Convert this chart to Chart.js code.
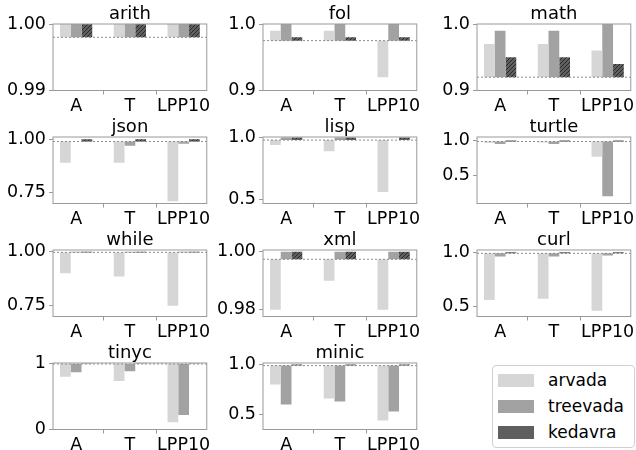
<!DOCTYPE html>
<html>
<head>
<meta charset="utf-8">
<script src="https://cdn.jsdelivr.net/npm/chart.js@4.4.1/dist/chart.umd.min.js"></script>
<style>
  body { margin: 0; background: #fff; width: 636px; height: 450px; position: relative; overflow: hidden; font-family: 'DejaVu Sans', sans-serif; }
  .panel { position: absolute; width: 212px; height: 113px; }
  #legend { position: absolute; left: 492px; top: 365px; width: 143px; height: 83px; box-sizing: border-box;
            border: 1px solid #d0d0d0; border-radius: 4px; }
  .item { position: absolute; left: 5px; height: 13px; }
  .swatch { position: absolute; left: 0; top: 0; width: 36px; height: 13px; }
  .label { position: absolute; left: 50px; top: -4px; font-size: 17px; line-height: 20px; color: #000; white-space: nowrap; }
</style>
</head>
<body>
<div id="legend"></div>
<script>
// grammar subjects, one small chart each
const names = ['arith', 'fol', 'math', 'json', 'lisp', 'turtle', 'while', 'xml', 'curl', 'tinyc', 'minic'];
const categories = ['A', 'T', 'LPP10'];
const seriesNames = ['arvada', 'treevada', 'kedavra'];

// values per subject, in category order A, T, LPP10
const arvada = [
  [1.0, 1.0, 1.0], [0.99, 0.99, 0.92], [0.97, 0.97, 0.96], [0.89, 0.89, 0.71],
  [0.94, 0.89, 0.56], [0.965, 0.97, 0.77], [0.90, 0.885, 0.75], [0.98, 0.99, 0.98],
  [0.56, 0.57, 0.46], [0.80, 0.735, 0.11], [0.80, 0.66, 0.44]
];
const treevada = [
  [1.0, 1.0, 1.0], [1.0, 1.0, 1.0], [0.99, 0.99, 1.0], [0.99, 0.97, 0.98],
  [1.0, 1.0, 0.98], [0.95, 0.95, 0.21], [1.0, 1.0, 1.0], [1.0, 1.0, 1.0],
  [0.96, 0.96, 0.97], [0.87, 0.885, 0.22], [0.60, 0.63, 0.53]
];
const kedavra = [
  [1.0, 1.0, 1.0], [0.98, 0.98, 0.98], [0.95, 0.95, 0.94], [1.0, 1.0, 1.0],
  [1.0, 1.0, 1.0], [1.0, 1.0, 1.0], [1.0, 1.0, 1.0], [1.0, 1.0, 1.0],
  [1.0, 1.0, 1.0], [1.0, 1.0, 1.0], [1.0, 1.0, 1.0]
];
// reference level (dotted line), bars start from here
const baselines = [0.998, 0.975, 0.92, 0.99, 0.98, 0.985, 0.997, 0.9974, 0.99, 0.995, 0.99];

// axis limits and tick labels
const yMin = [0.99, 0.9, 0.9, 0.70, 0.468, 0.106, 0.70, 0.9777, 0.407, 0, 0.349];
const yMax = [1.0, 1.0, 1.0, 1.011, 1.005, 1.049, 1.008, 1.0006, 1.021, 1.01, 1.016];
const yTicks = [
  ['0.99', '1.00'], ['0.9', '1.0'], ['0.9', '1.0'], ['0.75', '1.00'],
  ['0.5', '1.0'], ['0.5', '1.0'], ['0.75', '1.00'], ['0.98', '1.00'],
  ['0.5', '1.0'], ['0', '1'], ['0.5', '1.0']
];

const FONT = 'DejaVu Sans';
const colors = ['#d6d6d6', '#a2a2a2', '#5f5f5f'];
const spine = '#9a9a9a';

function hatch(bg) {
  const c = document.createElement('canvas');
  c.width = 4; c.height = 4;
  const g = c.getContext('2d');
  g.fillStyle = bg;
  g.fillRect(0, 0, 4, 4);
  g.strokeStyle = '#222';
  g.lineWidth = 0.9;
  g.beginPath();
  g.moveTo(0, 4); g.lineTo(4, 0);
  g.moveTo(-1, 1); g.lineTo(1, -1);
  g.moveTo(3, 5); g.lineTo(5, 3);
  g.stroke();
  return g.createPattern(c, 'repeat');
}
const kedavraFill = hatch(colors[2]);

// dotted baseline + full box round the plot area
const frame = {
  id: 'frame',
  afterDatasetsDraw(chart, args, opts) {
    const { ctx, chartArea: a, scales } = chart;
    const y = scales.y.getPixelForValue(baselines[opts.index]);
    ctx.save();
    ctx.strokeStyle = '#8c8c8c';
    ctx.lineWidth = 1;
    ctx.setLineDash([2, 2]);
    ctx.beginPath();
    ctx.moveTo(a.left, y);
    ctx.lineTo(a.right, y);
    ctx.stroke();
    ctx.setLineDash([]);
    ctx.strokeStyle = spine;
    ctx.strokeRect(a.left, a.top, a.right - a.left, a.bottom - a.top);
    ctx.restore();
  }
};

const colLeft = [0, 210, 424];
const rowTop = [0, 113, 226, 339];

names.forEach((name, i) => {
  const div = document.createElement('div');
  div.className = 'panel';
  div.style.left = colLeft[i % 3] + 'px';
  div.style.top = rowTop[Math.floor(i / 3)] + 'px';
  const cv = document.createElement('canvas');
  div.appendChild(cv);
  document.body.appendChild(div);

  const series = [arvada[i], treevada[i], kedavra[i]];

  new Chart(cv, {
    type: 'bar',
    data: {
      datasets: series.map((vals, s) => ({
        label: seriesNames[s],
        data: vals.map((v, k) => ({ x: k, y: v })),
        base: baselines[i],
        backgroundColor: s === 2 ? kedavraFill : colors[s],
        borderWidth: 0,
        barPercentage: 1.0,
        categoryPercentage: 0.6
      }))
    },
    plugins: [frame],
    options: {
      responsive: true,
      maintainAspectRatio: false,
      animation: false,
      events: [],
      layout: { padding: { left: 0, right: 3, top: 0, bottom: 0 } },
      plugins: {
        legend: { display: false },
        tooltip: { enabled: false },
        title: {
          display: true,
          text: name,
          fullSize: false,
          color: '#000',
          font: { family: FONT, size: 18, weight: 'normal', lineHeight: 1 },
          padding: { top: 5, bottom: 1 }
        },
        frame: { index: i }
      },
      scales: {
        x: {
          type: 'linear',
          min: -0.43,
          max: 2.43,
          offset: false,
          border: { display: false },
          grid: { drawOnChartArea: false, drawTicks: true, tickLength: 4, color: spine },
          ticks: {
            color: '#000',
            font: { family: FONT, size: 17.5 },
            padding: 1,
            maxRotation: 0,
            autoSkip: false,
            callback: (v) => categories[v]
          },
          afterBuildTicks: (s) => { s.ticks = categories.map((c, k) => ({ value: k })); },
          afterFit: (s) => { s.height = 22.5; }
        },
        y: {
          min: yMin[i],
          max: yMax[i],
          border: { display: false },
          grid: { drawOnChartArea: false, drawTicks: true, tickLength: 4, color: spine },
          ticks: {
            color: '#000',
            font: { family: FONT, size: 17.5 },
            padding: 3,
            autoSkip: false,
            callback: (v, k) => yTicks[i][k]
          },
          afterBuildTicks: (s) => { s.ticks = yTicks[i].map(t => ({ value: parseFloat(t) })); },
          afterFit: (s) => { s.width = 53; }
        }
      }
    }
  });
});

// Legend (html)
const legend = document.getElementById('legend');
seriesNames.forEach((n, s) => {
  const item = document.createElement('div');
  item.className = 'item';
  item.style.top = (8 + s * 26) + 'px';
  const sw = document.createElement('div');
  sw.className = 'swatch';
  sw.style.background = colors[s];
  const lb = document.createElement('div');
  lb.className = 'label';
  lb.textContent = n;
  item.appendChild(sw);
  item.appendChild(lb);
  legend.appendChild(item);
});
</script>
</body>
</html>
